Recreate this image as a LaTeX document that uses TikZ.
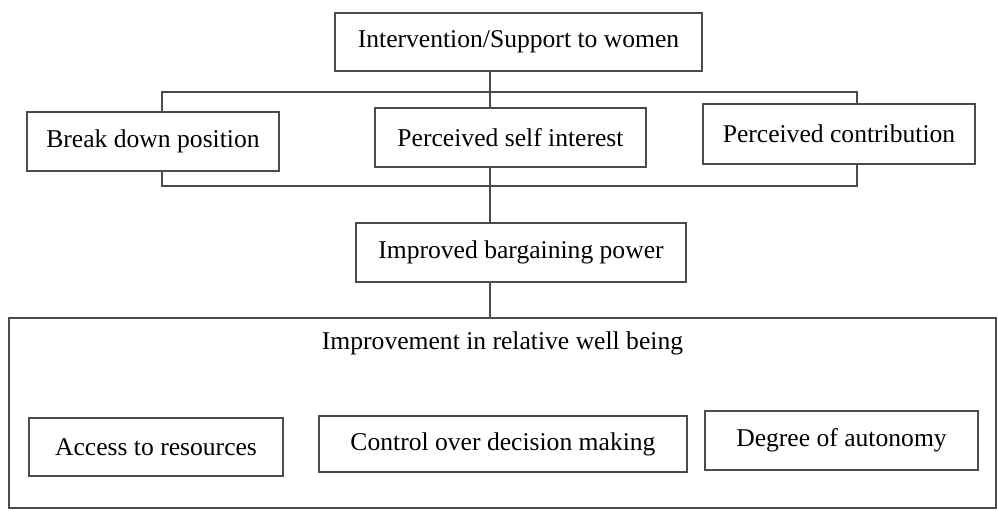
\documentclass[tikz,border=0pt]{standalone}
\usepackage{fontspec}
\setmainfont{Liberation Serif}

\begin{document}
\begin{tikzpicture}[x=0.5pt, y=-0.5pt,
    box/.style={rectangle, draw=black!70, line width=0.6pt, fill=white,
        inner sep=0pt, outer sep=0pt, font=\fontsize{12.8}{15}\selectfont},
    edge/.style={draw=black!70, line width=0.6pt, -}
]
    \useasboundingbox (0,0) rectangle (998,510);
    % outer box first, so that the inner boxes sit on it
    \node[box, minimum width=493.5pt, minimum height=95pt] (well) at (502.5,413) {};
    \node[font=\fontsize{12.8}{15}\selectfont] (welltitle) at (502.5,343) {Improvement in relative well being};
    \node[box, minimum width=183.5pt, minimum height=29pt] (support) at (518.5,42) {Intervention/Support to women};
    \node[box, minimum width=126pt, minimum height=29.5pt] (breakdown) at (153,141.5) {Break down position};
    \node[box, minimum width=135.5pt, minimum height=29.5pt] (selfint) at (510.5,137.5) {Perceived self interest};
    \node[box, minimum width=136pt, minimum height=30pt] (contrib) at (839,134) {Perceived contribution};
    \node[box, minimum width=165pt, minimum height=29.5pt] (bargain) at (521,252.5) {Improved bargaining power};
    \node[box, minimum width=127pt, minimum height=29pt] (access) at (156,447) {Access to resources};
    \node[box, minimum width=184pt, minimum height=28pt] (control) at (503,444) {Control over decision making};
    \node[box, minimum width=136.5pt, minimum height=29.5pt] (autonomy) at (841.5,440.5) {Degree of autonomy};
    % bracket corners
    \coordinate (upl) at (162,92);
    \coordinate (upr) at (857,92);
    \coordinate (lol) at (162,186);
    \coordinate (lor) at (857,186);
    \coordinate (spine) at (490,92);
    \draw[edge] (breakdown.north -| upl) -- (upl) -- (upr) -- (contrib.north -| upr);
    \draw[edge] (breakdown.south -| lol) -- (lol) -- (lor) -- (contrib.south -| lor);
    \draw[edge] (support.south -| spine) -- (selfint.north -| spine);
    \draw[edge] (selfint.south -| spine) -- (bargain.north -| spine);
    \draw[edge] (bargain.south -| spine) -- (well.north -| spine);
\end{tikzpicture}
\end{document}
